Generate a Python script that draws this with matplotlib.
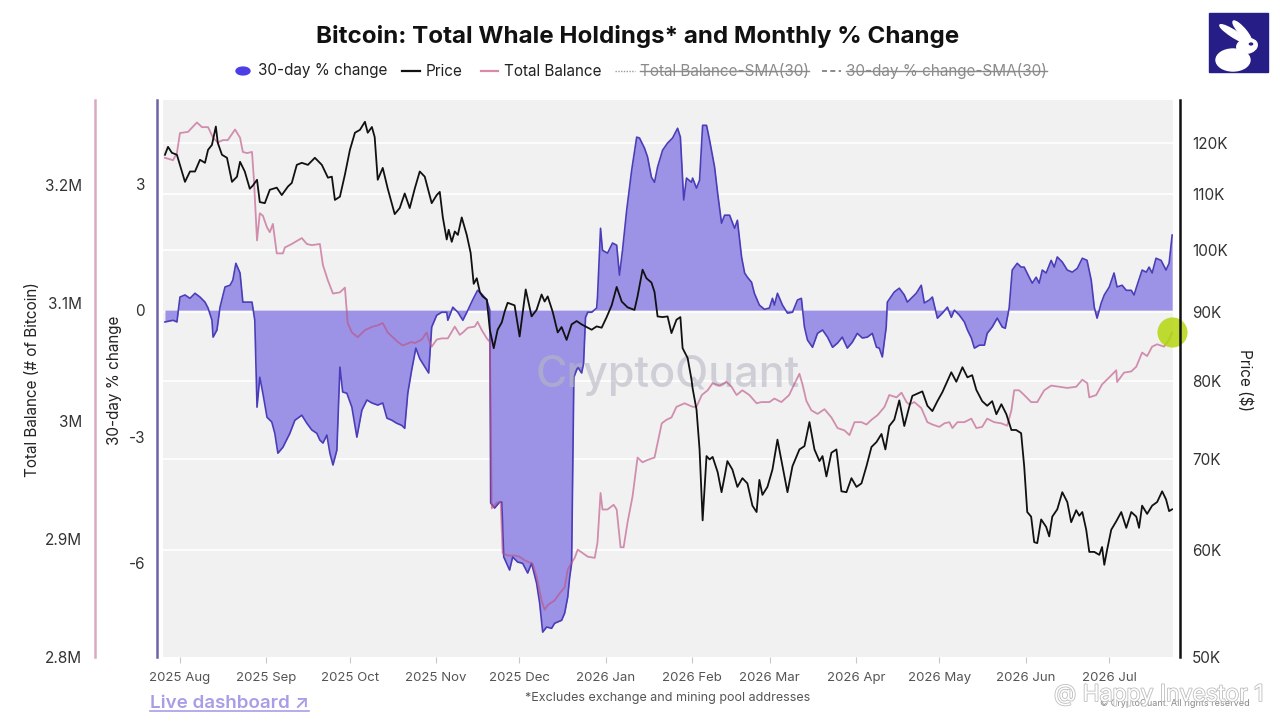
import matplotlib
matplotlib.use('Agg')
import matplotlib.pyplot as plt
import matplotlib.transforms as mtransforms
import matplotlib.patheffects as pe
from matplotlib.lines import Line2D
from matplotlib.patches import Rectangle, Ellipse, Circle
from matplotlib.ticker import FixedLocator, FuncFormatter, NullLocator
import numpy as np
import pandas as pd

plt.rcParams['font.family'] = ['Inter', 'DejaVu Sans']

BASE = pd.Timestamp('2025-08-01')

# ---------------- data (day offsets from 2025-08-01) ----------------
price_days = [-5.4, -4.3, -2.9, -1.1, 1.8, 3.6, 5.4, 7.2, 9.0, 10.1, 11.5, 12.9, 13.6, 15.1, 16.9, 18.7,
              20.5, 21.6, 23.3, 25.1, 26.2, 27.7, 28.7, 30.5, 32.3, 34.8, 36.6, 38.8, 40.2, 42.0, 43.8,
              46.0, 48.5, 51.0, 53.2, 54.6, 55.7, 57.5, 59.3, 61.1, 62.9, 64.7, 66.5, 67.5, 69.0, 70.0,
              71.1, 72.9, 74.7, 77.2, 79.0, 80.8, 82.6, 84.4, 86.2, 88.0, 90.5, 92.3, 93.4, 94.5, 95.9,
              96.6, 97.7, 98.8, 99.9, 101.3, 103.1, 104.5, 105.6, 106.7, 107.8, 108.8, 110.3, 111.4,
              112.8, 114.2, 115.7, 116.7, 117.8, 120.3, 122.1, 124.3, 126.4, 128.2, 130.0, 131.1, 132.2,
              134.0, 135.8, 137.2, 139.0, 140.8, 142.6, 144.4, 146.2, 148.0, 149.8, 151.6, 153.4, 155.2,
              157.0, 158.8, 160.9, 163.4, 164.5, 166.3, 167.7, 169.5, 170.6, 171.7, 173.5, 175.3, 176.7,
              178.5, 179.9, 180.7, 182.5, 183.9, 184.3, 185.7, 186.8, 187.9, 189.3, 190.4, 191.5, 193.3,
              194.7, 195.8, 196.8, 198.6, 200.4, 202.2, 204.0, 205.8, 207.3, 208.3, 209.4, 211.2, 213.0,
              214.8, 216.6, 218.4, 220.2, 222.7, 224.5, 226.3, 228.1, 229.9, 231.0, 232.4, 234.2, 236.0,
              237.8, 239.6, 241.4, 243.2, 245.0, 246.8, 248.6, 250.4, 252.2, 253.6, 255.0, 256.8, 258.6,
              260.4, 262.2, 263.3, 265.1, 266.9, 268.7, 270.5, 272.3, 274.1, 277.3, 279.1, 281.3, 283.1,
              284.8, 286.3, 288.4, 290.2, 292.0, 293.5, 295.3, 297.1, 298.9, 300.6, 302.4, 303.5, 304.6,
              306.0, 307.1, 308.2, 309.6, 311.4, 312.5, 313.6, 315.4, 317.2, 319.0, 320.4, 322.2, 323.3,
              324.4, 325.8, 326.9, 328.7, 330.5, 331.5, 332.3, 333.3, 334.8, 336.6, 338.4, 340.2, 342.0,
              343.8, 344.8, 345.9, 347.7, 349.5, 351.3, 353.1, 354.5, 355.6, 356.7]
price_k = [117.6, 119.2, 118.0, 117.6, 112.3, 114.3, 114.3, 116.6, 116.0, 118.6, 119.6, 123.4, 120.0, 117.6,
           117.0, 112.3, 113.3, 116.2, 114.3, 111.0, 111.6, 112.7, 108.5, 108.3, 110.8, 111.2, 109.8, 111.4,
           112.1, 115.6, 116.0, 115.6, 117.0, 115.6, 113.1, 113.3, 108.9, 109.5, 113.7, 118.6, 122.1, 122.7,
           124.4, 122.1, 123.3, 121.2, 112.7, 115.0, 111.0, 106.3, 107.4, 110.1, 107.4, 111.0, 114.3, 113.3,
           108.3, 109.8, 110.4, 105.7, 101.8, 103.5, 101.4, 103.2, 102.6, 105.7, 102.6, 99.5, 94.4, 95.3,
           93.1, 92.4, 91.9, 87.3, 84.6, 87.3, 88.4, 90.0, 91.4, 91.0, 86.3, 93.5, 89.3, 90.3, 92.7, 91.6,
           92.4, 90.0, 86.9, 87.7, 85.8, 88.1, 88.6, 88.1, 87.7, 87.3, 87.8, 87.6, 89.2, 91.0, 93.9, 91.6,
           90.7, 90.3, 92.4, 96.7, 95.3, 94.6, 93.1, 89.3, 89.2, 89.3, 86.8, 88.8, 89.2, 84.6, 83.2, 80.2,
           79.0, 76.2, 71.2, 63.1, 70.4, 70.0, 70.3, 68.5, 66.2, 68.0, 69.8, 68.8, 66.8, 67.8, 67.2, 64.7,
           64.0, 67.6, 65.9, 66.8, 68.8, 72.4, 69.2, 66.2, 69.2, 71.2, 71.6, 74.6, 71.2, 69.8, 70.4, 68.0,
           70.8, 71.2, 66.3, 66.2, 67.8, 66.8, 67.2, 69.2, 71.5, 72.1, 73.1, 71.2, 74.1, 74.9, 77.4, 74.1,
           76.6, 78.0, 78.3, 78.6, 76.7, 76.0, 77.3, 78.5, 81.2, 79.9, 81.9, 80.5, 80.8, 78.8, 77.3, 76.7,
           77.3, 75.6, 76.9, 75.6, 73.6, 73.6, 73.2, 69.2, 64.0, 63.5, 60.8, 60.7, 63.2, 62.4, 61.4, 63.5,
           64.3, 66.2, 65.1, 62.9, 64.2, 63.6, 64.0, 62.1, 59.8, 59.8, 59.5, 60.3, 58.5, 60.0, 62.1, 63.0,
           64.0, 62.3, 64.0, 63.5, 62.3, 64.7, 63.8, 64.7, 65.1, 66.3, 65.4, 64.1, 64.3]

balance_days = [-5.4, -2.5, -1.1, 0.0, 2.9, 6.1, 7.9, 10.1, 11.9, 13.6, 15.4, 17.2, 19.8, 21.6, 22.6, 24.1,
                25.9, 26.6, 27.7, 28.7, 29.8, 31.3, 32.3, 33.4, 34.8, 37.0, 37.7, 40.2, 43.8, 45.6, 47.4,
                50.3, 51.4, 53.2, 55.0, 57.5, 59.3, 60.3, 61.8, 63.9, 66.5, 69.3, 71.1, 72.9, 74.7, 76.5,
                78.3, 80.1, 83.3, 84.4, 86.9, 88.7, 89.4, 90.5, 92.3, 94.1, 96.3, 98.8, 100.6, 101.7, 103.5,
                106.0, 107.0, 108.5, 110.3, 111.4, 112.1, 113.9, 115.3, 116.0, 117.8, 120.3, 122.1, 123.9,
                125.7, 126.8, 128.2, 130.0, 131.1, 132.2, 134.7, 136.5, 138.3, 139.4, 140.8, 141.9, 143.0,
                144.8, 146.6, 149.1, 150.1, 151.2, 151.9, 153.7, 155.9, 157.0, 158.4, 159.5, 160.9, 162.7,
                164.5, 166.3, 168.1, 170.6, 173.2, 174.9, 176.7, 178.5, 181.4, 184.3, 185.7, 187.6, 189.7,
                191.5, 194.0, 196.5, 198.3, 200.1, 202.2, 204.7, 207.3, 209.0, 211.9, 213.7, 216.2, 219.0,
                220.8, 222.7, 223.8, 225.2, 227.0, 229.2, 231.7, 234.2, 236.4, 238.9, 240.7, 242.5, 245.0,
                246.8, 248.6, 250.8, 253.3, 255.0, 257.6, 259.4, 261.2, 262.2, 264.0, 266.5, 268.7, 270.5,
                273.0, 274.8, 276.6, 277.7, 279.5, 282.0, 284.5, 286.3, 288.4, 290.2, 292.7, 295.3, 297.4,
                298.9, 299.9, 301.7, 303.5, 306.0, 308.2, 310.7, 313.2, 316.1, 319.0, 322.2, 324.4, 326.2,
                326.9, 329.4, 331.5, 334.1, 336.6, 336.9, 339.4, 342.0, 343.8, 345.9, 347.7, 349.5, 351.3,
                353.8, 355.6, 356.7]
balance_m = [3.223, 3.221, 3.227, 3.244, 3.245, 3.253, 3.249, 3.249, 3.240, 3.236, 3.238, 3.238, 3.247, 3.240,
             3.228, 3.227, 3.228, 3.204, 3.153, 3.176, 3.174, 3.164, 3.160, 3.167, 3.142, 3.142, 3.147, 3.150,
             3.155, 3.150, 3.149, 3.150, 3.132, 3.119, 3.108, 3.109, 3.113, 3.083, 3.075, 3.071, 3.077, 3.080,
             3.081, 3.083, 3.075, 3.071, 3.067, 3.064, 3.067, 3.066, 3.069, 3.075, 3.069, 3.063, 3.069, 3.070,
             3.070, 3.080, 3.073, 3.075, 3.079, 3.080, 3.084, 3.077, 3.070, 3.067, 2.926, 2.931, 2.931, 2.888,
             2.886, 2.886, 2.885, 2.882, 2.880, 2.879, 2.868, 2.848, 2.840, 2.844, 2.848, 2.854, 2.859, 2.874,
             2.880, 2.884, 2.891, 2.888, 2.885, 2.884, 2.897, 2.939, 2.925, 2.925, 2.929, 2.925, 2.893, 2.893,
             2.914, 2.936, 2.969, 2.965, 2.967, 2.969, 2.998, 3.001, 3.003, 3.012, 3.015, 3.012, 3.012, 3.022,
             3.026, 3.032, 3.030, 3.033, 3.029, 3.022, 3.026, 3.022, 3.015, 3.016, 3.016, 3.019, 3.016, 3.022,
             3.031, 3.040, 3.031, 3.017, 3.009, 3.006, 3.010, 3.003, 2.994, 2.992, 2.988, 2.999, 2.999, 2.997,
             3.001, 3.005, 3.012, 3.022, 3.020, 3.024, 3.016, 3.014, 3.016, 3.011, 2.999, 2.997, 2.995, 2.998,
             2.999, 2.994, 2.999, 2.999, 3.002, 2.994, 2.995, 3.002, 2.999, 2.998, 2.996, 3.009, 3.026, 3.026,
             3.022, 3.016, 3.016, 3.026, 3.030, 3.029, 3.028, 3.029, 3.035, 3.032, 3.020, 3.022, 3.031, 3.037,
             3.043, 3.033, 3.041, 3.042, 3.046, 3.058, 3.055, 3.063, 3.065, 3.063, 3.069, 3.075]

change_days = [-5.4, -2.5, -1.1, 0.0, 1.8, 3.6, 5.4, 7.2, 9.0, 10.1, 11.5, 11.9, 13.3, 14.4, 16.2, 18.0, 19.0,
               20.1, 21.6, 22.6, 24.4, 25.9, 26.9, 27.7, 28.7, 29.8, 31.3, 33.0, 34.1, 35.2, 37.0, 39.5, 41.3,
               43.8, 45.6, 47.4, 49.2, 50.3, 51.4, 52.8, 53.9, 55.0, 56.4, 57.5, 58.5, 60.0, 61.8, 63.6, 65.4,
               67.2, 69.0, 71.1, 72.9, 74.4, 76.2, 77.9, 79.7, 80.8, 81.9, 83.3, 84.8, 86.2, 87.6, 88.7, 89.4,
               90.5, 92.3, 94.1, 95.9, 96.3, 98.1, 99.9, 101.7, 103.5, 105.2, 107.0, 108.8, 110.3, 111.4, 111.7,
               113.1, 114.9, 115.7, 116.4, 118.5, 119.6, 121.4, 123.2, 125.0, 126.4, 128.2, 129.3, 130.4, 131.8,
               133.6, 134.7, 137.2, 138.3, 139.4, 140.1, 140.8, 141.6, 143.0, 144.4, 145.1, 145.8, 146.6, 148.0,
               149.8, 150.1, 151.2, 151.9, 153.7, 155.5, 157.0, 158.0, 159.1, 160.6, 162.4, 164.2, 165.2, 167.0,
               168.1, 169.5, 170.6, 171.7, 173.5, 175.3, 177.1, 178.9, 179.9, 181.1, 182.1, 183.9, 184.3, 185.7,
               186.8, 187.9, 189.3, 190.4, 192.2, 193.3, 194.7, 195.8, 197.6, 199.4, 200.4, 201.9, 203.0, 204.0,
               205.5, 206.5, 208.3, 210.1, 211.9, 213.0, 213.7, 214.8, 216.6, 218.4, 220.2, 222.0, 223.4, 224.5,
               225.6, 227.4, 229.2, 231.0, 232.8, 234.6, 236.4, 238.1, 239.9, 241.7, 243.5, 245.3, 247.1, 248.9,
               250.4, 251.4, 252.5, 253.9, 254.3, 256.8, 258.6, 260.4, 261.5, 263.3, 264.7, 266.5, 267.6, 269.4,
               270.5, 272.3, 274.1, 275.9, 277.3, 278.4, 280.2, 282.0, 283.1, 284.5, 285.6, 287.4, 289.2, 290.2,
               292.0, 293.8, 295.6, 296.7, 298.1, 299.2, 301.0, 302.4, 303.5, 305.3, 306.4, 307.8, 308.9, 310.0,
               311.4, 313.2, 314.3, 315.4, 317.2, 319.0, 320.8, 322.6, 324.4, 326.1, 327.6, 328.7, 329.7, 331.2,
               332.3, 334.1, 335.8, 336.9, 338.7, 340.2, 342.0, 343.0, 344.1, 345.9, 347.4, 348.4, 349.5, 350.9,
               352.7, 354.5, 355.6, 356.7]
change_pct = [-0.28, -0.24, -0.28, 0.31, 0.36, 0.28, 0.40, 0.31, 0.19, 0.05, -0.24, -0.64, -0.47, 0.07, 0.55,
              0.59, 0.71, 1.11, 0.88, 0.19, 0.19, 0.19, -0.24, -2.30, -1.59, -1.97, -2.54, -2.65, -2.92, -3.39,
              -3.25, -2.92, -2.61, -2.49, -2.68, -2.84, -2.92, -3.08, -3.15, -2.96, -3.39, -3.67, -3.32, -1.35,
              -1.94, -1.97, -2.30, -3.01, -2.37, -2.13, -2.20, -2.25, -2.20, -2.56, -2.61, -2.68, -2.73, -2.80,
              -1.97, -1.42, -0.90, -1.15, -1.30, -1.42, -1.49, -0.40, -0.12, -0.05, -0.05, -0.24, 0.07, -0.05,
              -0.24, 0.00, 0.24, 0.47, 0.36, 0.24, 0.00, -4.57, -4.69, -4.55, -4.55, -5.85, -6.16, -5.85, -5.97,
              -6.00, -6.23, -6.00, -6.47, -6.94, -7.63, -7.51, -7.54, -7.42, -7.35, -7.18, -6.80, -6.33, -6.00,
              -1.59, -1.35, -1.49, -1.26, -0.17, -0.05, -0.05, 0.05, 0.31, 1.94, 1.42, 1.35, 1.59, 1.54, 0.83,
              1.42, 2.37, 3.32, 4.10, 4.08, 3.84, 3.63, 3.15, 3.03, 3.39, 3.79, 3.96, 4.08, 4.31, 4.10, 2.61,
              3.13, 3.03, 3.13, 2.89, 3.08, 4.38, 4.38, 4.03, 3.39, 2.77, 2.06, 2.25, 2.25, 1.94, 2.13, 1.26,
              0.88, 0.78, 0.66, 0.40, 0.12, 0.02, 0.05, 0.28, 0.12, 0.40, 0.12, -0.07, -0.05, 0.24, 0.28, -0.40,
              -0.71, -0.88, -0.55, -0.47, -0.64, -0.88, -0.78, -0.64, -0.90, -0.76, -0.55, -0.66, -0.64, -0.55,
              -0.88, -0.90, -1.11, -0.40, 0.19, 0.43, 0.52, 0.36, 0.19, 0.31, 0.40, 0.59, 0.17, 0.24, 0.31,
              -0.19, -0.07, 0.07, -0.17, 0.00, -0.12, -0.28, -0.47, -0.66, -0.90, -0.83, -0.83, -0.55, -0.40,
              -0.19, -0.40, -0.43, 0.05, 0.95, 1.11, 1.02, 1.02, 0.78, 0.64, 0.78, 0.64, 0.95, 0.88, 1.18, 1.02,
              1.26, 1.14, 0.95, 0.90, 0.99, 1.23, 1.18, 0.71, 0.07, -0.19, 0.17, 0.36, 0.55, 0.88, 0.55, 0.59,
              0.47, 0.47, 0.36, 0.59, 0.95, 0.90, 1.02, 0.88, 1.23, 1.18, 0.95, 1.11, 1.78]

pct_ticks = [-6, -3, 0, 3]
balance_ticks = [2.8, 2.9, 3.0, 3.1, 3.2]
price_ticks = [50, 60, 70, 80, 90, 100, 110, 120]
month_ticks = pd.date_range('2025-08-01', '2026-07-01', freq='MS')

pct_range = (-8.22, 4.98)
balance_range = (2.8, 3.272)
price_range = (50, 129.1)
day_range = (-6.1, 357.0)

# ---------------- styling ----------------
BG = '#f1f1f2'
FILL = '#9c93e6'
EDGE = '#4a3db8'
PINK = '#be5082'
W, H = 1280, 719
PX = 0.72  # points per pixel at 100 dpi


def fx(px):
    return px / W


def fy(py):
    return 1 - py / H


def to_t(days):
    return BASE + pd.to_timedelta(np.asarray(days, dtype=float), unit='D')


fig = plt.figure(figsize=(12.8, 7.19), dpi=100)
fig.patch.set_facecolor('white')

ax = fig.add_axes([fx(163), fy(657), fx(1173) - fx(163), fy(100) - fy(657)])
ax.set_facecolor(BG)
ax_bal = ax.twinx()
ax_pr = ax.twinx()

t_chg = to_t(change_days)
t_bal = to_t(balance_days)
t_pr = to_t(price_days)

# 30-day % change area
ax.fill_between(t_chg, change_pct, 0, color=FILL, lw=0, zorder=2)
ax.plot(t_chg, change_pct, color=EDGE, lw=1.2, zorder=3)
ax.set_ylim(*pct_range)
ax.set_xlim(to_t([day_range[0]])[0], to_t([day_range[1]])[0])

# balance
ax_bal.plot(t_bal, balance_m, color=PINK, alpha=0.62, lw=1.3, zorder=3)
ax_bal.scatter([t_bal[-1]], [balance_m[-1]], s=470, color='#b3d60e', alpha=0.85, zorder=4, lw=0,
               clip_on=False)
ax_bal.set_ylim(*balance_range)

# price
ax_pr.set_yscale('log')
ax_pr.plot(t_pr, price_k, color='#111111', lw=1.3, zorder=3)
ax_pr.set_ylim(*price_range)

# gridlines at price ticks (drawn behind the area)
blend = mtransforms.blended_transform_factory(ax.transAxes, ax_pr.transData)
for p in price_ticks[1:]:
    ax.add_line(Line2D([0, 1], [p, p], transform=blend, color='white', lw=1.2, zorder=1))

# spines
for a in (ax, ax_bal, ax_pr):
    for s in ('top', 'bottom', 'left', 'right'):
        a.spines[s].set_visible(False)

ax.spines['left'].set_visible(True)
ax.spines['left'].set_position(('outward', 6 * PX))
ax.spines['left'].set_color('#6d64a8')
ax.spines['left'].set_linewidth(1.8)

ax_bal.yaxis.set_ticks_position('left')
ax_bal.yaxis.set_label_position('left')
ax_bal.spines['left'].set_visible(True)
ax_bal.spines['left'].set_position(('outward', 68 * PX))
ax_bal.spines['left'].set_color('#d9a9c2')
ax_bal.spines['left'].set_linewidth(1.8)

ax_pr.spines['right'].set_visible(True)
ax_pr.spines['right'].set_position(('outward', 7 * PX))
ax_pr.spines['right'].set_color('#111111')
ax_pr.spines['right'].set_linewidth(1.8)

# ticks
ax.yaxis.set_major_locator(FixedLocator(pct_ticks))
ax.yaxis.set_major_formatter(FuncFormatter(lambda v, _: f"{v:g}"))
ax.tick_params(axis='y', length=0, pad=12 * PX, labelsize=11, labelcolor='#333333')

ax_bal.yaxis.set_major_locator(FixedLocator(balance_ticks))
ax_bal.yaxis.set_major_formatter(FuncFormatter(lambda v, _: f"{v:g}M"))
ax_bal.tick_params(axis='y', length=0, pad=13 * PX, labelsize=11, labelcolor='#333333')

ax_pr.yaxis.set_major_locator(FixedLocator(price_ticks))
ax_pr.yaxis.set_minor_locator(NullLocator())
ax_pr.yaxis.set_major_formatter(FuncFormatter(lambda v, _: f"{v:g}K"))
ax_pr.tick_params(axis='y', which='both', length=0, pad=12 * PX, labelsize=11, labelcolor='#333333')

ax.xaxis.set_major_locator(FixedLocator(matplotlib.dates.date2num(month_ticks)))
ax.xaxis.set_major_formatter(FuncFormatter(lambda v, _: matplotlib.dates.num2date(v).strftime('%Y %b')))
ax.tick_params(axis='x', length=4, width=0.8, color='#c8c8c8', pad=7, labelsize=9.5, labelcolor='#555555')

# axis titles
fig.text(fx(33), fy(380), 'Total Balance (# of Bitcoin)', rotation=90, ha='center', va='center',
         fontsize=11, color='#222222')
fig.text(fx(115), fy(380), '30-day % change', rotation=90, ha='center', va='center',
         fontsize=11, color='#222222')
fig.text(fx(1245), fy(380), 'Price ($)', rotation=270, ha='center', va='center',
         fontsize=11, color='#222222')

# watermark
ax.text(0.5, 0.505, 'CryptoQuant', transform=ax.transAxes, ha='center', va='center', fontsize=31,
        fontweight='medium', color='#b8b8c4', alpha=0.6, zorder=5)

# title
fig.text(fx(638), fy(36), 'Bitcoin: Total Whale Holdings* and Monthly % Change', ha='center', va='center',
         fontsize=17.4, fontweight='bold', color='#111111')

# legend (manual)
LY = fy(71)
fig.add_artist(Circle((fx(243), LY), 7 / W, transform=fig.transFigure, color='#4b3ee6'))
fig.text(fx(258), LY, '30-day % change', ha='left', va='center', fontsize=11, color='#222222')
fig.add_artist(Line2D([fx(402), fx(420)], [LY, LY], transform=fig.transFigure, color='#111111', lw=1.6))
fig.text(fx(426), LY, 'Price', ha='left', va='center', fontsize=11, color='#222222')
fig.add_artist(Line2D([fx(481), fx(498)], [LY, LY], transform=fig.transFigure, color='#d98aa8', lw=1.6))
fig.text(fx(504), LY, 'Total Balance', ha='left', va='center', fontsize=11, color='#222222')
fig.add_artist(Line2D([fx(615), fx(635)], [LY, LY], transform=fig.transFigure, color='#9a9a9a', lw=1.0,
                      ls=(0, (1, 1))))
t1 = fig.text(fx(640), LY, 'Total Balance-SMA(30)', ha='left', va='center', fontsize=11, color='#8a8a8a')
fig.add_artist(Line2D([fx(822), fx(841)], [LY, LY], transform=fig.transFigure, color='#777777', lw=1.2,
                      ls=(0, (3, 2))))
t2 = fig.text(fx(846), LY, '30-day % change-SMA(30)', ha='left', va='center', fontsize=11, color='#8a8a8a')

# bottom texts
lt = fig.text(fx(150), fy(703), 'Live dashboard \u2197', ha='left', va='center', fontsize=13.5,
              fontweight='semibold', color='#a99de8')
fig.text(fx(668), fy(698), '*Excludes exchange and mining pool addresses', ha='center', va='center',
         fontsize=9, color='#555555')
fig.text(fx(1250), fy(704), '\u00a9 CryptoQuant. All rights reserved', ha='right', va='center',
         fontsize=6.5, color='#888888')
fig.text(fx(1054), fy(695), '@ Happy Investor 1', ha='left', va='center', fontsize=16.5, color='white',
         path_effects=[pe.withStroke(linewidth=1.2, foreground='#bdbdbd')])

# logo
fig.add_artist(Rectangle((fx(1209), fy(72)), 59 / W, 59 / H, transform=fig.transFigure,
                         color='#271d86', zorder=1))
for (cx, cy, w, h, ang) in [(1233, 60, 34, 22, 0), (1247, 46, 20, 15, -15),
                            (1234, 34, 9, 24, 40), (1242, 31, 8, 22, 25)]:
    fig.add_artist(Ellipse((fx(cx), fy(cy)), w / W, h / H, angle=ang, transform=fig.transFigure,
                           color='white', zorder=2))
fig.add_artist(Circle((fx(1251), fy(44)), 1.6 / W, transform=fig.transFigure, color='#271d86', zorder=3))

# strike-throughs and underline
fig.canvas.draw()
r = fig.canvas.get_renderer()
inv = fig.transFigure.inverted()
for t in (t1, t2):
    bb = t.get_window_extent(r)
    (x0, y0), (x1, y1) = inv.transform([(bb.x0, bb.y0), (bb.x1, bb.y1)])
    ym = (y0 + y1) / 2
    fig.add_artist(Line2D([x0, x1], [ym, ym], transform=fig.transFigure, color='#8a8a8a', lw=1.0))
bb = lt.get_window_extent(r)
(x0, y0), (x1, y1) = inv.transform([(bb.x0, bb.y0), (bb.x1, bb.y1)])
fig.add_artist(Line2D([x0, x1], [y0 + 1 / H, y0 + 1 / H], transform=fig.transFigure, color='#a99de8', lw=1.2))

fig.savefig('out.png', dpi=100, facecolor='white')
